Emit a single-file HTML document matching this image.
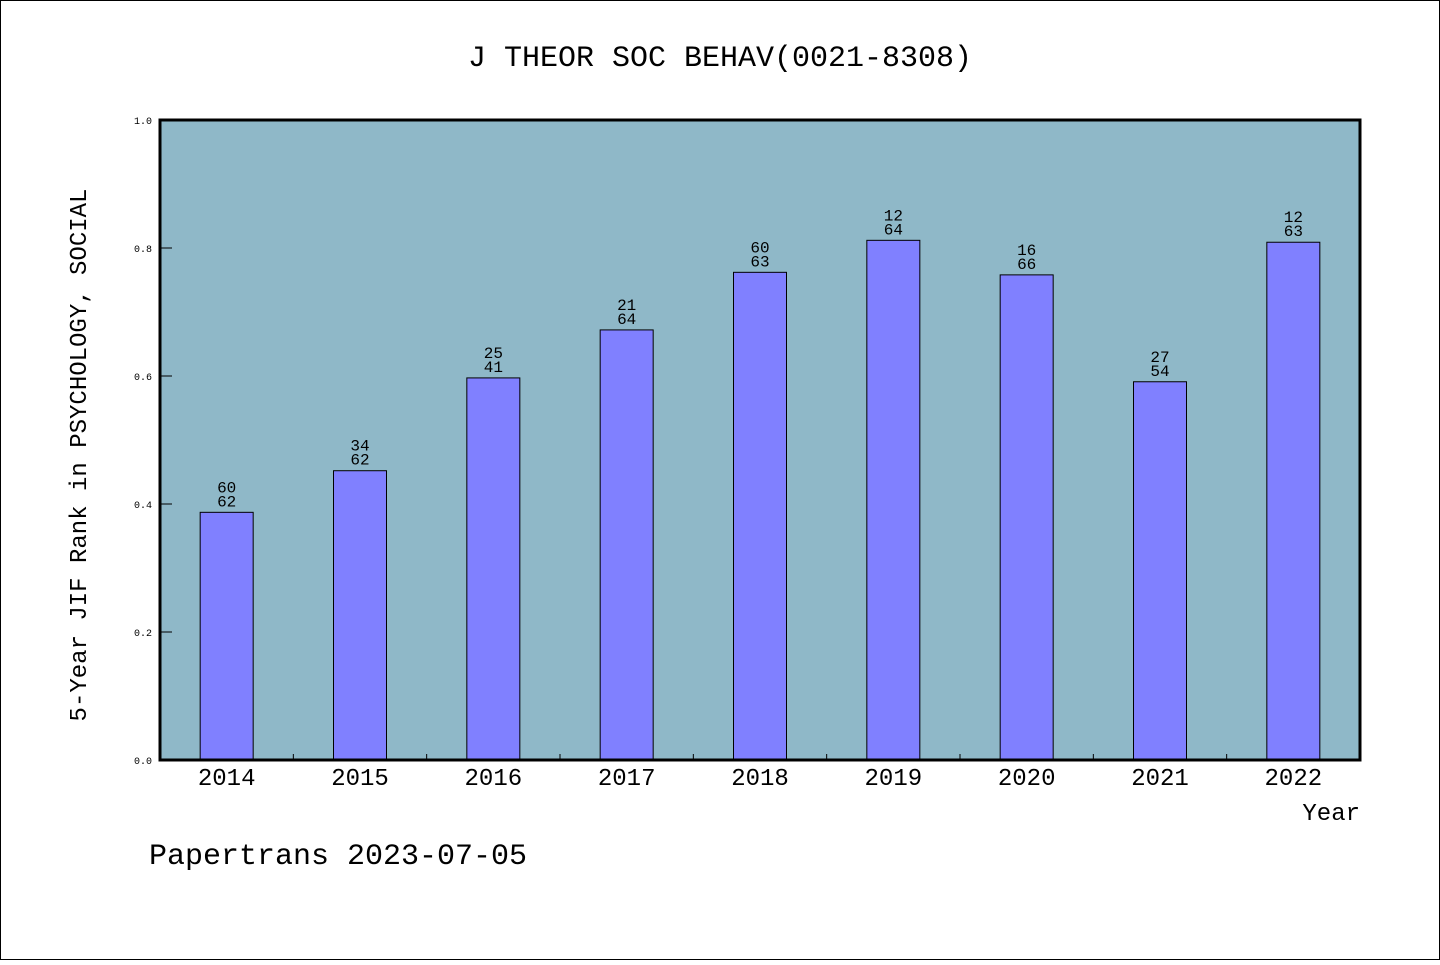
<!DOCTYPE html>
<html><head><meta charset="utf-8">
<style>
html,body{margin:0;padding:0;background:#fff;}
body{width:1440px;height:960px;overflow:hidden;}
svg text{font-family:"WenQuanYi Zen Hei","Liberation Mono",monospace;fill:#000;}
</style></head>
<body>
<svg id="chart" width="1440" height="960" viewBox="0 0 1440 960" xmlns="http://www.w3.org/2000/svg">
<rect x="0.5" y="0.5" width="1439" height="959" fill="#fff" stroke="#000" stroke-width="1"/>
<text x="720" y="66" font-size="30" text-anchor="middle">J THEOR SOC BEHAV(0021-8308)</text>
<rect x="160" y="120" width="1200" height="640" fill="#8fb8c8"/>
<g id="bars"></g>
<g id="ticks"></g>
<rect x="160" y="120" width="1200" height="640" fill="none" stroke="#000" stroke-width="3"/>
<text transform="translate(86,455) rotate(-90)" font-size="24" text-anchor="middle">5-Year JIF Rank in PSYCHOLOGY, SOCIAL</text>
<text x="1360" y="820" font-size="24" text-anchor="end">Year</text>
<text x="149" y="864" font-size="30">Papertrans 2023-07-05</text>
</svg>
<script>
const years = ["2014","2015","2016","2017","2018","2019","2020","2021","2022"];
const values = [0.387, 0.452, 0.597, 0.672, 0.762, 0.812, 0.758, 0.591, 0.809];
const ranks = ["60","34","25","21","60","12","16","27","12"];
const totals = ["62","62","41","64","63","64","66","54","63"];
const yTicks = [0.0, 0.2, 0.4, 0.6, 0.8, 1.0];

const NS = "http://www.w3.org/2000/svg";
const X0 = 160, W = 1200, Y0 = 760, H = 640;
const slot = W / years.length;
const barW = 53;
const xScale = i => X0 + slot * (i + 0.5);
const yScale = v => Y0 - v * H;

const bars = document.getElementById("bars");
const ticks = document.getElementById("ticks");
function mk(tag, attrs, parent){
  const el = document.createElementNS(NS, tag);
  for (const k in attrs) el.setAttribute(k, attrs[k]);
  parent.appendChild(el);
  return el;
}
years.forEach((y, i) => {
  const cx = xScale(i), top = yScale(values[i]);
  const r = mk("rect", {x: cx - barW/2, y: top, width: barW, height: Y0 - top, fill: "#8080ff", stroke: "#000", "stroke-width": 1}, bars);
  
  
  const t1 = mk("text", {x: cx, y: top - 20, "font-size": 16, "text-anchor": "middle"}, bars);
  t1.textContent = ranks[i];
  
  
  const t2 = mk("text", {x: cx, y: top - 6, "font-size": 16, "text-anchor": "middle"}, bars);
  t2.textContent = totals[i];
  
  
  const xl = mk("text", {x: cx, y: 785, "font-size": 24, "text-anchor": "middle"}, ticks);
  xl.textContent = y;
  
  
  if (i > 0) {
    const tk = mk("line", {x1: X0 + slot*i, x2: X0 + slot*i, y1: Y0, y2: Y0 - 6, stroke: "#000", "stroke-width": 1}, ticks);
    
    
  }
});
yTicks.forEach(v => {
  const yy = yScale(v);
  const tl = mk("text", {x: 152, y: yy + 4, "font-size": 10, "text-anchor": "end"}, ticks);
  tl.textContent = v.toFixed(1);
  
  
  const tk = mk("line", {x1: X0, x2: X0 + 12, y1: yy, y2: yy, stroke: "#000", "stroke-width": 1}, ticks);
  
  
});
</script>
</body></html>
